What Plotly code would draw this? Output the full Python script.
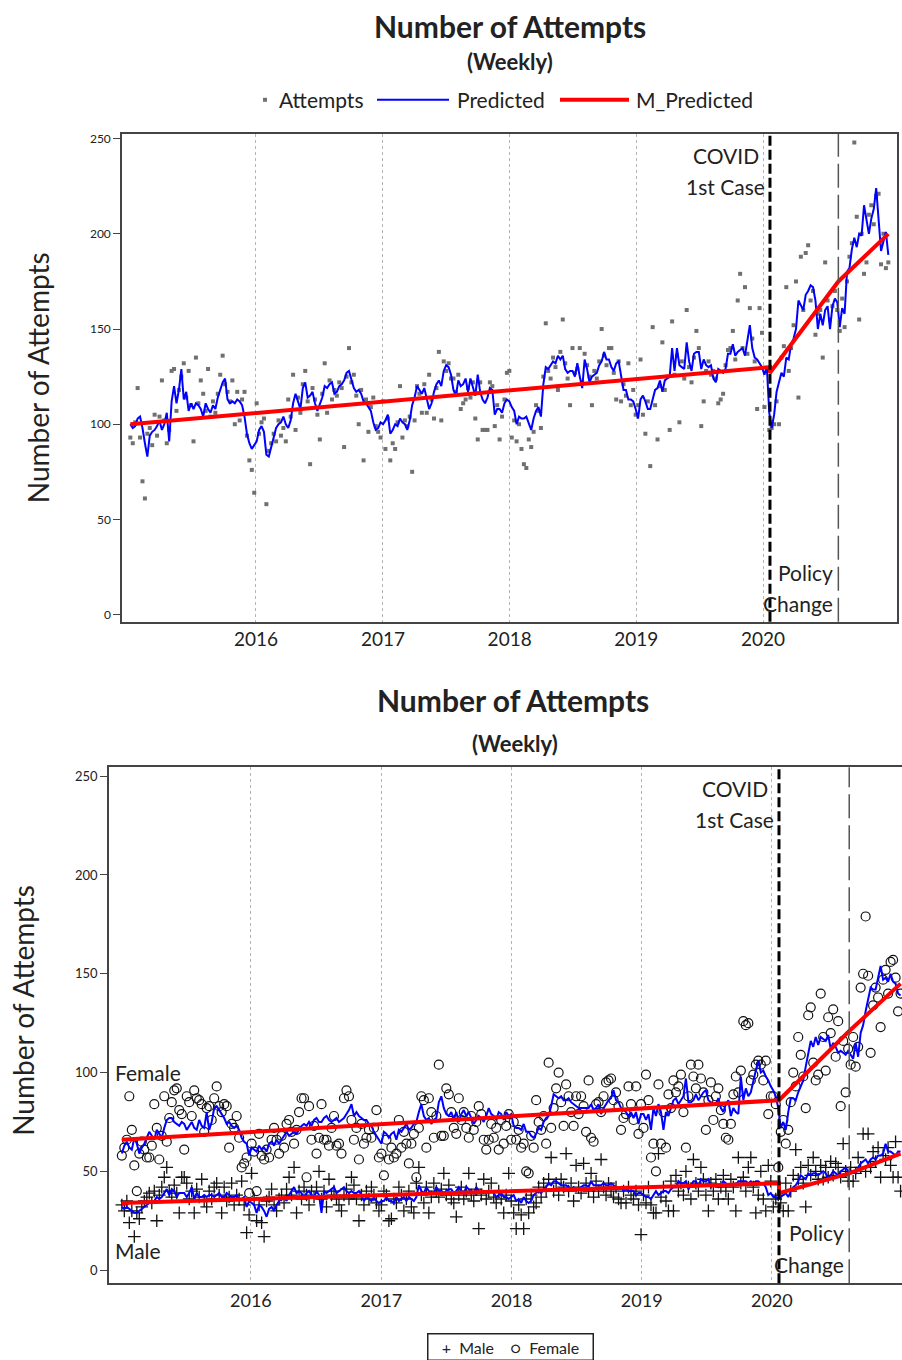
import pandas as pd
import plotly.graph_objects as go

# ---------------- data ----------------
WEEK_START = "2015-01-04"
N_WEEKS = 313
COVID_DATE = "2020-01-21"
POLICY_DATE = "2020-08-05"

# weekly attempts (top panel, grey dots)
attempts = [
    93, 90, 101, 119, 93, 70, 61, 95, 98, 89, 105, 94, 104, 123, 102, 90, 97, 128, 129, 107,
    118, 125, 132, 114, 128, 110, 91, 135, 111, 123, 116, 107, 129, 104, 112, 106, 116, 126, 136, 121,
    117, 112, 123, 100, 117, 102, 113, 117, 94, 81, 76, 64,
    111, 95, 101, 103, 58, 86, 90, 95, 91, 102, 94, 98, 91, 113, 104, 126, 97, 114, 106, 121,
    128, 112, 79, 119, 113, 105, 92, 116, 132, 106, 123, 113, 118, 115, 122, 119, 88, 125, 140, 122,
    126, 115, 100, 118, 81, 113, 96, 109, 114, 99, 96, 93,
    112, 87, 103, 81, 90, 87, 101, 120, 93, 102, 99, 104, 75, 102, 120, 116, 106, 121, 106, 126,
    113, 103, 119, 138, 102, 133, 128, 132, 124, 124, 117, 126, 108, 111, 113, 119, 114, 122, 103, 92,
    122, 97, 97, 97, 122, 120, 99, 110, 92, 104, 113, 127, 128,
    93, 102, 91, 100, 87, 79, 77, 92, 88, 96, 110, 107, 98, 125, 153, 128, 124, 135, 130, 118,
    138, 155, 132, 124, 110, 140, 127, 129, 140, 122, 137, 131, 125, 110, 128, 124, 133, 150, 136, 131,
    140, 140, 127, 113, 133, 112, 121, 115, 132, 110, 118, 105,
    110, 134, 105, 95, 112, 78, 151, 110, 92, 120, 143, 118, 125, 97, 154, 126, 136, 101, 133, 124,
    160, 130, 122, 135, 149, 140, 99, 112, 128, 133, 126, 128, 124, 111, 113, 116, 131, 139, 140, 149,
    134, 165, 179, 140, 172, 137, 161, 145, 133, 108, 161, 148,
    109, 129, 97, 98, 100, 112, 100, 135, 141, 172, 128, 140, 152, 175, 114, 188, 160, 190, 194, 165,
    170, 147, 158, 160, 135, 185, 165, 155, 162, 170, 160, 149, 166, 151, 175, 188, 195, 248, 209, 155,
    200, 179, 185, 210, 215, 205, 220, 221, 184, 200, 182, 185,
]

# weekly predicted (top panel, blue)
predicted = [
    100, 98, 99, 103, 104, 98, 90, 83, 94, 96, 97, 99, 102, 97, 100, 106, 91, 112, 120, 111,
    118, 129, 113, 117, 107, 111, 108, 111, 110, 108, 104, 111, 108, 106, 110, 108, 114, 118, 122, 124,
    113, 111, 112, 111, 113, 112, 110, 104, 95, 90, 87, 89,
    91, 97, 99, 96, 84, 83, 88, 93, 98, 100, 101, 104, 100, 98, 102, 111, 116, 112, 108, 119,
    122, 114, 115, 117, 111, 107, 110, 114, 120, 119, 121, 122, 116, 117, 120, 121, 123, 127, 128, 124,
    119, 117, 118, 116, 112, 111, 109, 107, 101, 97, 98, 101,
    100, 102, 105, 95, 97, 100, 99, 103, 101, 100, 97, 102, 110, 114, 120, 118, 116, 119, 113, 108,
    111, 117, 121, 123, 120, 128, 131, 130, 126, 118, 115, 123, 120, 121, 124, 117, 124, 120, 115, 126,
    117, 113, 111, 114, 119, 118, 105, 108, 108, 106, 111, 113, 112,
    109, 107, 100, 104, 103, 103, 104, 100, 97, 103, 107, 109, 104, 121, 130, 129, 131, 133, 132, 136,
    134, 136, 129, 127, 128, 128, 125, 132, 125, 119, 134, 129, 122, 125, 126, 127, 131, 133, 138, 134,
    134, 130, 128, 132, 133, 126, 118, 118, 113, 113, 112, 108,
    103, 113, 115, 112, 108, 108, 113, 118, 119, 123, 117, 123, 124, 125, 140, 128, 140, 131, 130, 129,
    143, 133, 128, 137, 138, 138, 129, 134, 131, 130, 131, 124, 122, 129, 128, 127, 129, 137, 137, 142,
    136, 138, 139, 140, 136, 143, 152, 140, 135, 134, 132, 130,
    126, 130, 106, 98, 105, 117, 122, 127, 125, 135, 134, 142, 145, 150, 165, 162, 160, 168, 170, 173,
    172, 165, 150, 158, 152, 160, 162, 150, 162, 166, 164, 151, 161, 158, 180, 182, 192, 198, 193, 200,
    199, 215, 208, 200, 208, 213, 224, 205, 191, 196, 201, 189,
]

# weekly female attempts (bottom panel, circles)
female = [
    58, 62, 66, 88, 71, 53, 40, 59, 65, 61, 57, 57, 63, 84, 72, 56, 68, 88, 65, 77,
    85, 91, 92, 81, 79, 61, 88, 85, 78, 91, 87, 86, 84, 70, 82, 83, 76, 87, 93, 83,
    80, 84, 83, 62, 74, 72, 78, 67, 52, 54, 57, 39,
    64, 60, 40, 69, 58, 56, 61, 57, 66, 72, 66, 59, 68, 62, 74, 76, 70, 64, 71, 80,
    87, 87, 47, 83, 66, 73, 59, 67, 84, 66, 66, 63, 72, 78, 63, 64, 59, 87, 91, 88,
    76, 66, 72, 56, 74, 64, 67, 71, 67, 72, 81, 57,
    59, 48, 66, 56, 62, 57, 59, 76, 62, 70, 64, 54, 64, 69, 47, 72, 88, 86, 62, 87,
    80, 67, 78, 104, 68, 68, 92, 89, 80, 72, 69, 87, 76, 80, 72, 67, 78, 71, 75, 83,
    79, 66, 61, 66, 74, 67, 72, 61, 76, 64, 73, 79, 66,
    75, 66, 71, 62, 64, 50, 49, 68, 62, 86, 75, 71, 78, 64, 105, 72, 82, 92, 100, 85,
    73, 94, 88, 80, 73, 88, 79, 88, 83, 70, 96, 67, 65, 84, 85, 80, 88, 95, 96, 97,
    86, 90, 83, 71, 77, 79, 93, 84, 76, 93, 69, 84,
    72, 99, 86, 57, 64, 50, 94, 64, 80, 62, 89, 82, 96, 90, 93, 99, 80, 62, 88, 104,
    98, 92, 104, 97, 90, 71, 86, 95, 76, 88, 92, 81, 74, 67, 66, 74, 89, 98, 90, 101,
    126, 124, 125, 96, 99, 104, 106, 104, 96, 106, 79, 88,
    88, 84, 52, 70, 76, 64, 71, 85, 100, 93, 118, 109, 98, 82, 129, 133, 105, 96, 99, 140,
    118, 101, 128, 120, 132, 108, 126, 83, 116, 90, 112, 104, 118, 103, 113, 143, 150, 179, 149, 110,
    134, 143, 138, 123, 147, 152, 140, 156, 157, 148, 131, 140,
]

# weekly predicted female (blue)
female_pred = [
    59, 63, 65, 62, 61, 67, 64, 59, 62, 64, 67, 70, 68, 66, 71, 69, 67, 72, 76, 77,
    77, 75, 74, 73, 75, 74, 71, 73, 75, 72, 71, 76, 73, 72, 80, 71, 75, 82, 83, 81,
    79, 77, 74, 75, 73, 72, 73, 71, 67, 65, 64, 58,
    62, 61, 60, 63, 61, 62, 60, 64, 65, 63, 66, 64, 66, 68, 70, 68, 69, 70, 69, 71,
    73, 74, 73, 75, 73, 76, 77, 75, 75, 77, 78, 76, 75, 76, 77, 75, 76, 77, 79, 81,
    84, 78, 80, 78, 77, 76, 76, 74, 73, 70, 68, 66,
    64, 70, 69, 67, 69, 70, 66, 71, 70, 72, 74, 71, 72, 74, 75, 80, 84, 78, 76, 77,
    74, 76, 77, 85, 88, 82, 79, 78, 80, 76, 80, 75, 79, 81, 78, 80, 77, 74, 76, 78,
    77, 75, 78, 82, 79, 78, 76, 80, 79, 76, 80, 78, 79,
    73, 72, 72, 71, 74, 70, 70, 68, 67, 69, 72, 71, 75, 77, 78, 83, 89, 88, 87, 88,
    86, 86, 87, 85, 84, 83, 82, 82, 82, 82, 82, 84, 81, 82, 84, 79, 82, 84, 86, 87,
    91, 86, 85, 82, 81, 80, 78, 80, 77, 80, 74, 79,
    79, 76, 79, 71, 82, 78, 84, 80, 71, 80, 78, 82, 86, 87, 84, 86, 88, 97, 85, 85,
    86, 89, 86, 88, 90, 91, 86, 85, 84, 84, 87, 82, 80, 84, 86, 78, 82, 80, 79, 98,
    86, 92, 88, 90, 96, 101, 106, 100, 101, 98, 96, 93,
    91, 88, 82, 72, 75, 71, 80, 87, 87, 86, 90, 93, 96, 103, 110, 116, 113, 118, 114, 118,
    117, 116, 119, 112, 115, 113, 110, 111, 110, 109, 111, 109, 107, 115, 108, 120, 124, 131, 138, 143,
    142, 142, 148, 154, 147, 148, 146, 150, 146, 145, 140, 139,
]

# weekly male attempts (bottom panel, plus signs)
male = [
    33, 30, 35, 24, 30, 17, 29, 26, 32, 35, 37, 39, 34, 40, 25, 38, 42, 47, 52, 40,
    37, 43, 39, 29, 47, 47, 44, 36, 40, 29, 41, 37, 46, 35, 32, 40, 36, 42, 44, 38,
    29, 42, 35, 37, 44, 33, 38, 36, 45, 33, 19, 28,
    49, 36, 25, 33, 24, 17, 35, 37, 41, 33, 30, 36, 38, 34, 41, 47, 38, 52, 29, 40,
    36, 42, 38, 33, 40, 37, 42, 50, 36, 40, 32, 46, 38, 40, 36, 33, 30, 38, 41, 36,
    47, 43, 36, 25, 38, 33, 40, 36, 42, 38, 34, 30,
    33, 40, 38, 25, 26, 36, 34, 42, 38, 30, 36, 40, 32, 29, 44, 52, 38, 34, 42, 29,
    37, 44, 40, 37, 41, 49, 38, 43, 36, 34, 27, 38, 42, 36, 40, 49, 38, 35, 41, 21,
    38, 46, 36, 40, 44, 37, 34, 40, 36, 29, 38, 49, 35,
    29, 21, 33, 28, 21, 36, 29, 38, 32, 34, 42, 37, 44, 40, 46, 57, 40, 44, 38, 46,
    42, 59, 40, 44, 35, 53, 42, 39, 54, 44, 40, 49, 37, 45, 40, 56, 42, 38, 44, 40,
    37, 42, 36, 34, 40, 34, 42, 38, 36, 40, 33, 18,
    38, 34, 42, 33, 29, 29, 59, 37, 42, 35, 30, 45, 30, 48, 40, 44, 38, 50, 42, 36,
    56, 44, 40, 52, 46, 38, 30, 44, 40, 46, 36, 42, 48, 40, 36, 46, 42, 30, 57, 44,
    47, 40, 52, 57, 42, 29, 38, 50, 36, 30, 53, 45,
    32, 36, 38, 34, 30, 44, 30, 40, 48, 61, 46, 52, 44, 32, 53, 48, 57, 50, 46, 53,
    46, 52, 47, 55, 48, 54, 52, 47, 64, 50, 45, 52, 45, 49, 57, 52, 69, 50, 69, 52,
    60, 55, 62, 47, 58, 56, 62, 53, 47, 65, 47, 40,
]

# weekly predicted male (blue)
male_pred = [
    32, 31, 32, 31, 30, 29, 29, 30, 31, 32, 33, 34, 34, 35, 37, 36, 37, 39, 41, 38,
    41, 40, 37, 39, 39, 39, 37, 39, 42, 36, 39, 37, 37, 38, 37, 38, 38, 37, 38, 39,
    37, 37, 39, 38, 37, 37, 38, 36, 36, 37, 32, 35,
    34, 33, 29, 33, 32, 30, 27, 31, 32, 30, 33, 35, 36, 37, 35, 38, 40, 42, 39, 40,
    39, 37, 39, 40, 38, 37, 40, 38, 29, 40, 39, 40, 41, 42, 39, 40, 41, 42, 40, 39,
    40, 39, 39, 40, 38, 35, 37, 36, 35, 37, 35, 34,
    35, 35, 37, 35, 35, 34, 37, 35, 36, 37, 35, 37, 36, 35, 37, 43, 40, 39, 42, 40,
    39, 39, 42, 40, 40, 39, 40, 41, 41, 39, 40, 42, 40, 39, 42, 41, 40, 39, 42, 40,
    39, 40, 39, 40, 40, 39, 37, 38, 39, 37, 37, 36, 37,
    38, 35, 36, 34, 37, 35, 34, 35, 38, 39, 40, 39, 41, 42, 44, 43, 45, 45, 44, 43,
    43, 43, 42, 41, 42, 40, 41, 42, 43, 43, 42, 45, 43, 43, 43, 43, 44, 43, 43, 44,
    43, 42, 41, 42, 40, 41, 40, 40, 40, 38, 39, 39,
    38, 37, 37, 36, 38, 40, 38, 39, 40, 40, 39, 41, 42, 42, 45, 44, 44, 45, 41, 43,
    45, 45, 42, 46, 45, 45, 46, 42, 43, 43, 42, 43, 45, 44, 43, 43, 43, 43, 45, 45,
    45, 45, 44, 45, 44, 45, 45, 44, 44, 42, 38, 39,
    37, 37, 36, 37, 38, 39, 37, 40, 42, 43, 45, 48, 47, 46, 49, 48, 49, 49, 48, 49,
    50, 49, 46, 48, 50, 49, 48, 50, 51, 52, 50, 50, 50, 49, 52, 54, 55, 56, 54, 56,
    57, 56, 58, 58, 59, 64, 60, 60, 59, 58, 60, 60,
]

# segmented-regression (M_Predicted) breakpoints
trend_dates = ["2015-01-04", COVID_DATE, COVID_DATE, POLICY_DATE, "2020-12-27"]
m_predicted = [100, 130, 127, 175, 200]
female_trend = [66, 86, 86, 121, 145]
male_trend = [34, 44, 39, 49, 59]

year_ticks = ["2016-01-01", "2017-01-01", "2018-01-01", "2019-01-01", "2020-01-01"]
year_labels = ["2016", "2017", "2018", "2019", "2020"]
y_ticks = [0, 50, 100, 150, 200, 250]

for s in (attempts, predicted, female, female_pred, male, male_pred):
    assert len(s) == N_WEEKS, len(s)

dates = pd.date_range(WEEK_START, periods=N_WEEKS, freq="7D")

# ---------------- figure ----------------
FONT = "Lato, 'Open Sans', sans-serif"
W, H = 902, 1360
BLUE = "#0000ff"
RED = "#ff0000"
INK = "#111111"

fig = go.Figure()

# top panel
fig.add_trace(go.Scatter(x=dates, y=attempts, mode="markers", name="Attempts",
                         marker=dict(symbol="square", size=4, color="#707070"),
                         xaxis="x", yaxis="y"))
fig.add_trace(go.Scatter(x=dates, y=predicted, mode="lines", name="Predicted",
                         line=dict(color=BLUE, width=2), xaxis="x", yaxis="y"))
fig.add_trace(go.Scatter(x=trend_dates, y=m_predicted, mode="lines", name="M_Predicted",
                         line=dict(color=RED, width=4), xaxis="x", yaxis="y"))

# bottom panel
fig.add_trace(go.Scatter(x=dates, y=male, mode="markers", name="Male",
                         marker=dict(symbol="cross-thin-open", size=9, color=INK,
                                     line=dict(color=INK, width=1.3)),
                         xaxis="x2", yaxis="y2"))
fig.add_trace(go.Scatter(x=dates, y=female, mode="markers", name="Female",
                         marker=dict(symbol="circle-open", size=9, color=INK,
                                     line=dict(color=INK, width=1.2)),
                         xaxis="x2", yaxis="y2"))
for series in (female_pred, male_pred):
    fig.add_trace(go.Scatter(x=dates, y=series, mode="lines", showlegend=False,
                             line=dict(color=BLUE, width=2), xaxis="x2", yaxis="y2"))
for series in (female_trend, male_trend):
    fig.add_trace(go.Scatter(x=trend_dates, y=series, mode="lines", showlegend=False,
                             line=dict(color=RED, width=4), xaxis="x2", yaxis="y2"))


def px_x(p):
    return p / W


def px_y(p):
    return 1 - p / H


axis_common = dict(showline=True, linecolor="#444444", linewidth=1.5, zeroline=False)
xcommon = dict(type="date", tickvals=year_ticks, ticktext=year_labels, ticks="",
               showgrid=True, gridcolor="#b5b5b5", gridwidth=1, griddash="dot",
               **axis_common)
ycommon = dict(tickvals=y_ticks, ticks="outside", ticklen=7, tickcolor="#444444",
               tickwidth=1.2, showgrid=False, **axis_common)

shapes = []
annotations = []

for xa, ya in (("x", "y"), ("x2", "y2")):
    shapes.append(dict(type="line", xref=xa, yref=f"{ya} domain", x0=COVID_DATE, x1=COVID_DATE,
                       y0=0, y1=1, line=dict(color="#000000", width=3, dash="10px,4px")))
    shapes.append(dict(type="line", xref=xa, yref=f"{ya} domain", x0=POLICY_DATE, x1=POLICY_DATE,
                       y0=0, y1=1, line=dict(color="#555555", width=1.5, dash="24px,7px")))

txt = dict(color="#222222", family=FONT)


def note(text, x, y, xref, yref, size=21, xanchor="right", xshift=0, bold=False, **kw):
    annotations.append(dict(text=f"<b>{text}</b>" if bold else text, x=x, y=y, xref=xref,
                            yref=yref, showarrow=False, xanchor=xanchor, yanchor="middle",
                            xshift=xshift, font=dict(size=size, **txt), **kw))


# titles
note("Number of Attempts", px_x(510), px_y(23), "paper", "paper", size=30, xanchor="center", bold=True)
note("(Weekly)", px_x(510), px_y(59), "paper", "paper", size=22, xanchor="center", bold=True)
note("Number of Attempts", px_x(513), px_y(699), "paper", "paper", size=30, xanchor="center", bold=True)
note("(Weekly)", px_x(515), px_y(742), "paper", "paper", size=22, xanchor="center", bold=True)

# y axis titles
note("Number of Attempts", px_x(38), px_y(376), "paper", "paper", size=28, xanchor="center", textangle=-90)
note("Number of Attempts", px_x(23), px_y(1010), "paper", "paper", size=28, xanchor="center", textangle=-90)

# event labels, top
note("COVID", COVID_DATE, 241, "x", "y", xshift=-9)
note("1st Case", COVID_DATE, 225, "x", "y", xshift=-3)
note("Policy", POLICY_DATE, 22, "x", "y", xshift=-3)
note("Change", POLICY_DATE, 6, "x", "y", xshift=-3)
# event labels, bottom
note("COVID", COVID_DATE, 244, "x2", "y2", xshift=-9)
note("1st Case", COVID_DATE, 228, "x2", "y2", xshift=-3)
note("Policy", POLICY_DATE, 19, "x2", "y2", xshift=-3)
note("Change", POLICY_DATE, 3, "x2", "y2", xshift=-3)
note("Female", 0.005, 100, "x2 domain", "y2", xanchor="left")
note("Male", 0.005, 10, "x2 domain", "y2", xanchor="left")

# custom legend for top panel
ly = px_y(97)
shapes.append(dict(type="rect", xref="paper", yref="paper", x0=px_x(263), x1=px_x(267),
                   y0=px_y(99), y1=px_y(95), fillcolor="#707070", line=dict(width=0)))
shapes.append(dict(type="line", xref="paper", yref="paper", x0=px_x(377), x1=px_x(449),
                   y0=ly, y1=ly, line=dict(color=BLUE, width=2)))
shapes.append(dict(type="line", xref="paper", yref="paper", x0=px_x(560), x1=px_x(629),
                   y0=ly, y1=ly, line=dict(color=RED, width=4)))
note("Attempts", px_x(277), ly, "paper", "paper", xanchor="left")
note("Predicted", px_x(455), ly, "paper", "paper", xanchor="left")
note("M_Predicted", px_x(634), ly, "paper", "paper", xanchor="left")

# bottom legend box
annotations.append(dict(text="+  Male    \u25cb  Female", x=px_x(510), y=px_y(1347), xref="paper",
                        yref="paper", showarrow=False, xanchor="center", yanchor="middle",
                        font=dict(size=16, **txt), bordercolor="#222222", borderwidth=1.5,
                        borderpad=3, bgcolor="white", width=158))

fig.update_layout(
    width=W, height=H, margin=dict(l=0, r=0, t=0, b=0),
    paper_bgcolor="white", plot_bgcolor="white", showlegend=False,
    font=dict(family=FONT, color="#222222"),
    xaxis=dict(domain=[px_x(122), px_x(897)], range=["2014-12-11", "2021-01-21"], anchor="y",
               mirror=True, tickfont=dict(size=19), **xcommon),
    yaxis=dict(domain=[px_y(620), px_y(131)], range=[-3.7, 252.6], anchor="x",
               mirror=True, tickfont=dict(size=12), **ycommon),
    xaxis2=dict(domain=[px_x(109), 1.0], range=["2014-11-29", "2020-12-31"], anchor="y2",
                mirror=True, tickfont=dict(size=18), **xcommon),
    yaxis2=dict(domain=[px_y(1283), px_y(766)], range=[-6.6, 254.5], anchor="x2",
                mirror=False, tickfont=dict(size=13), **ycommon),
    shapes=shapes, annotations=annotations,
)

fig.write_html("out.html", config={"displayModeBar": False},
               post_script="document.body.style.margin='0px';document.body.style.overflow='hidden';")
